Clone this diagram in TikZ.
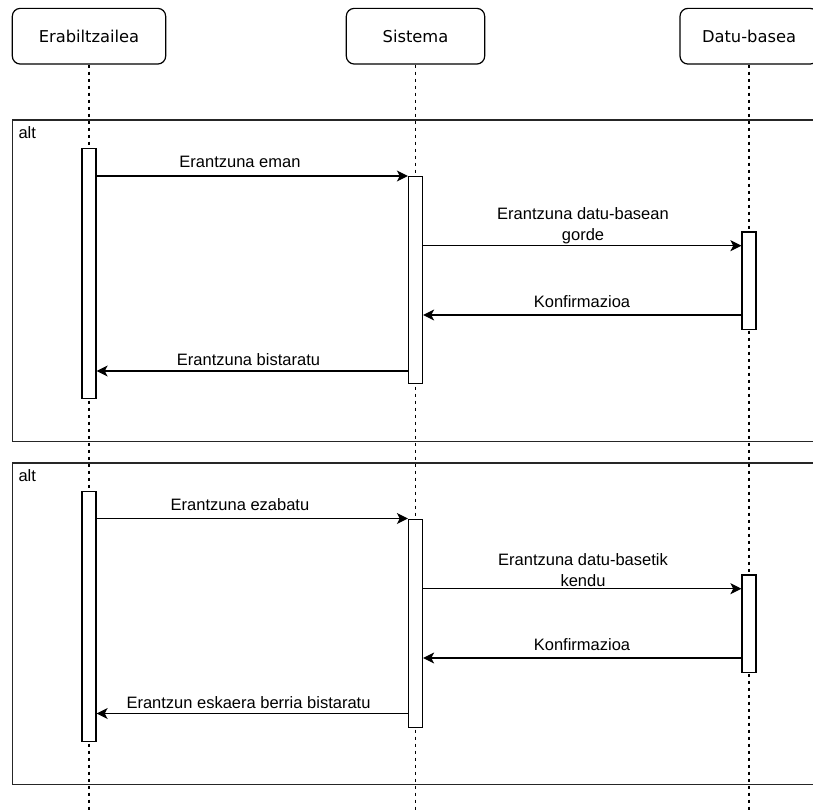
\documentclass[tikz,border=0pt]{standalone}
\usepackage{fontspec}
\setmainfont{Liberation Sans}
\newfontfamily\actorfont{DejaVu Sans}
\usetikzlibrary{arrows.meta}
\begin{document}
\begin{tikzpicture}[x=1pt,y=-1pt,
  actor/.style={draw, rounded corners=8pt, line width=1.2pt, fill=white,
    inner sep=0pt, minimum height=55.7pt,
    font=\actorfont\fontsize{16.3}{19}\selectfont},
  lifeline/.style={line width=1.2pt, dash pattern=on 3.5pt off 3.5pt},
  bar/.style={draw, fill=white, line width=1.2pt, minimum width=14pt, inner sep=0pt},
  frame/.style={draw=black!85, line width=1.4pt, inner sep=0pt},
  msg/.style={line width=1.2pt, -{Stealth[length=11pt,width=11pt,inset=2.8pt]}},
  msglabel/.style={inner sep=0pt, align=center,
    font=\fontsize{16.5}{20.7}\selectfont},
]
\clip (0,0) rectangle (813,811);
\fill[white] (0,0) rectangle (813,811);

% participants
\node[actor, minimum width=153.4pt] (a1) at (89,36.2) {Erabiltzailea};
\node[actor, minimum width=138.4pt] (a2) at (415.5,36.2) {Sistema};
\node[actor, minimum width=138pt] (a3) at (749,36.2) {Datu-basea};

% lifelines
\coordinate (a1end) at (89,811);
\coordinate (a2end) at (415.5,811);
\coordinate (a3end) at (749,811);
\draw[lifeline] (a1.south) -- (a1end);
\draw[lifeline] (a2.south) -- (a2end);
\draw[lifeline] (a3.south) -- (a3end);

% combined fragments
\node[frame, anchor=north west, minimum width=830pt, minimum height=321.7pt] (f1) at (12,119.2) {};
\node[frame, anchor=north west, minimum width=830pt, minimum height=321.3pt] (f2) at (12,462.2) {};
\node[msglabel, anchor=base west] (alt1) at (18.3,138.3) {alt};
\node[msglabel, anchor=base west] (alt2) at (18.3,481.3) {alt};

% first fragment: answer is given and stored
\node[bar, anchor=north, minimum height=250pt] (e1) at (89,148) {};
\node[bar, anchor=north, minimum height=207pt] (s1) at (415.5,176) {};
\node[bar, anchor=north, minimum height=97.5pt] (d1) at (749,231.3) {};

\draw[msg] (e1.north east |- s1.north west) -- (s1.north west);
\node[msglabel, anchor=base] (m1) at (240,167.3) {Erantzuna eman};

\draw[msg] ([yshift=-69.7pt]s1.north east) -- ([yshift=-14.4pt]d1.north west);
\node[msglabel, anchor=south] (m2) at (583,243.8) {Erantzuna datu-basean\\gorde};

\draw[msg] ([yshift=-83.7pt]d1.north west) -- ([yshift=-139pt]s1.north east);
\node[msglabel, anchor=base] (m3) at (582,307.3) {Konfirmazioa};

\draw[msg] ([yshift=-195pt]s1.north west) -- ([yshift=-223pt]e1.north east);
\node[msglabel, anchor=base] (m4) at (248.5,365.7) {Erantzuna bistaratu};

% second fragment: answer is deleted
\node[bar, anchor=north, minimum height=250.5pt] (e2) at (89,490.5) {};
\node[bar, anchor=north, minimum height=208pt] (s2) at (415.5,518.5) {};
\node[bar, anchor=north, minimum height=97.5pt] (d2) at (749,574.3) {};

\draw[msg] (e2.north east |- s2.north west) -- (s2.north west);
\node[msglabel, anchor=base] (n1) at (240,510) {Erantzuna ezabatu};

\draw[msg] ([yshift=-70.2pt]s2.north east) -- ([yshift=-14.4pt]d2.north west);
\node[msglabel, anchor=south] (n2) at (583,586.8) {Erantzuna datu-basetik\\kendu};

\draw[msg] ([yshift=-83.7pt]d2.north west) -- ([yshift=-139.5pt]s2.north east);
\node[msglabel, anchor=base] (n3) at (582,650.3) {Konfirmazioa};

\draw[msg] ([yshift=-195pt]s2.north west) -- ([yshift=-223pt]e2.north east);
\node[msglabel, anchor=base] (n4) at (248.5,708.3) {Erantzun eskaera berria bistaratu};
\end{tikzpicture}
\end{document}
